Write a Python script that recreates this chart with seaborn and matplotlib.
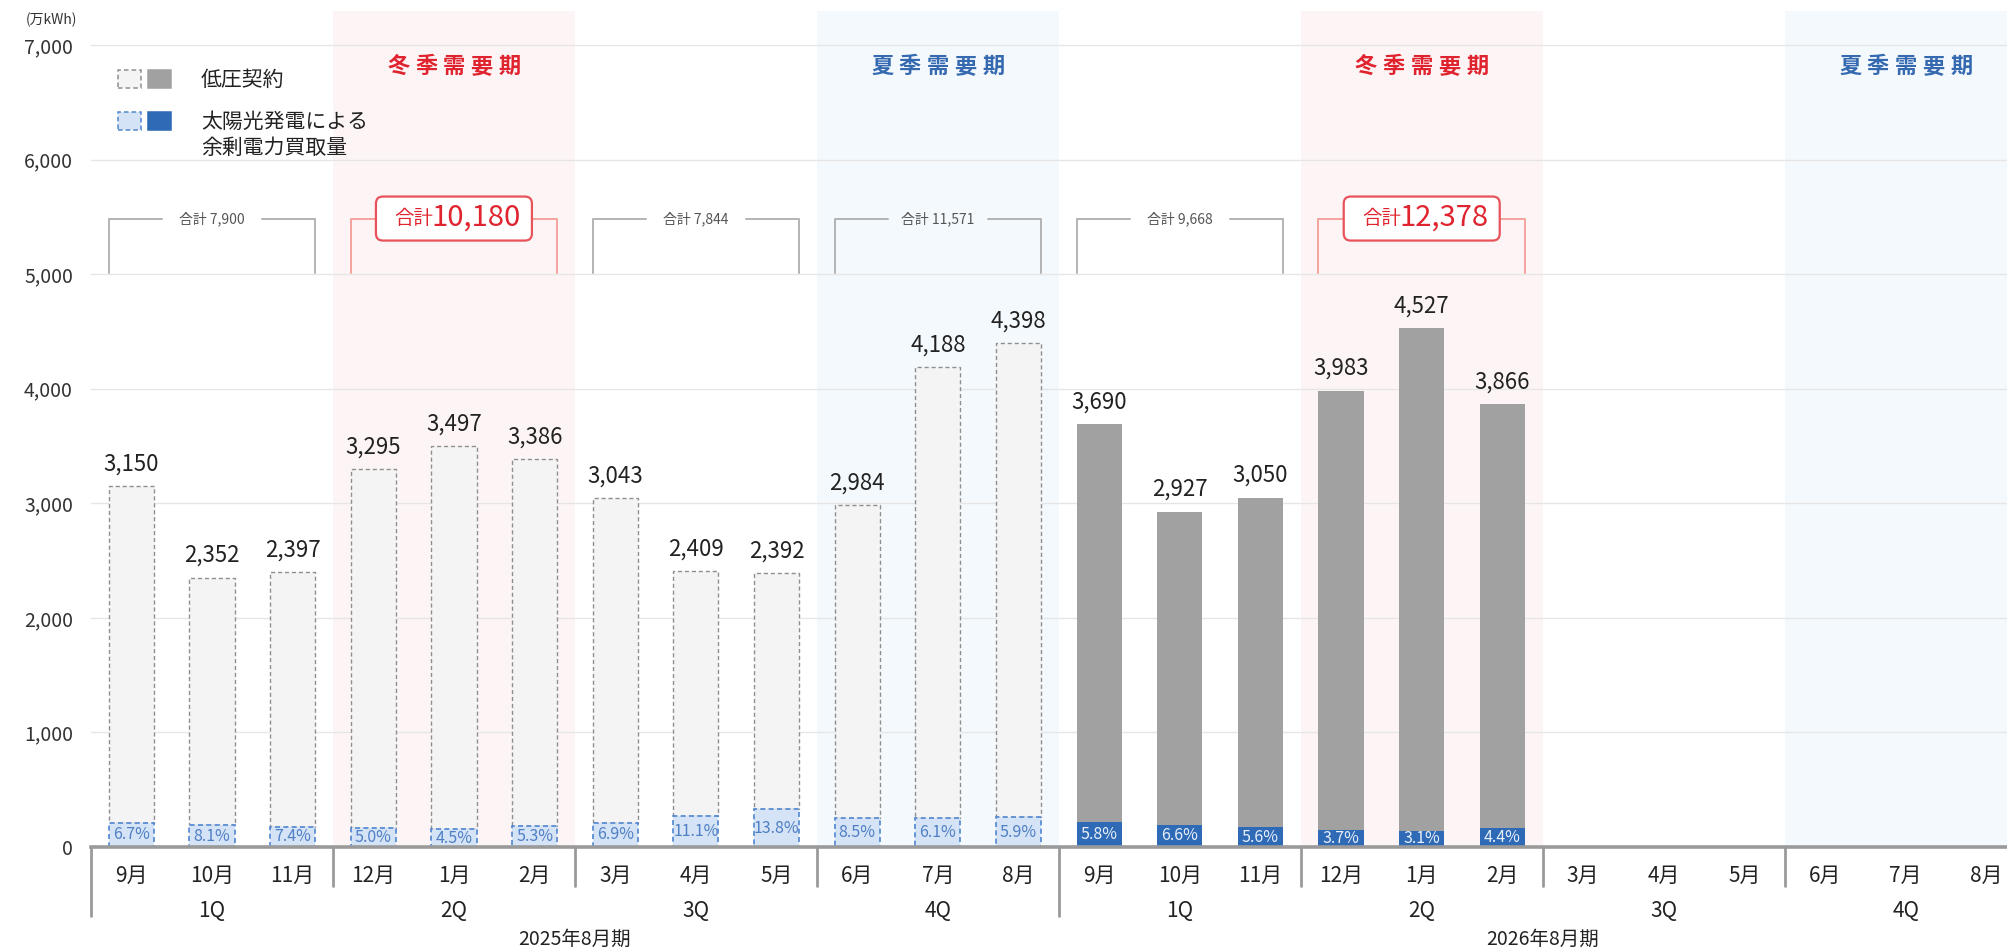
import matplotlib
matplotlib.use("Agg")
import matplotlib.pyplot as plt
from matplotlib.patches import Rectangle, FancyBboxPatch
from matplotlib.transforms import IdentityTransform
import numpy as np
import pandas as pd
import seaborn as sns

# データ
months = ['9月', '10月', '11月', '12月', '1月', '2月', '3月', '4月', '5月', '6月', '7月', '8月'] * 2
totals_2025 = [3150, 2352, 2397, 3295, 3497, 3386, 3043, 2409, 2392, 2984, 4188, 4398]
solar_2025 = [211, 191, 177, 165, 157, 179, 210, 267, 330, 254, 255, 259]
share_2025 = ['6.7%', '8.1%', '7.4%', '5.0%', '4.5%', '5.3%', '6.9%', '11.1%', '13.8%', '8.5%', '6.1%', '5.9%']
totals_2026 = [3690, 2927, 3050, 3983, 4527, 3866]
solar_2026 = [214, 193, 171, 147, 140, 170]
share_2026 = ['5.8%', '6.6%', '5.6%', '3.7%', '3.1%', '4.4%']
quarters = ['1Q', '2Q', '3Q', '4Q'] * 2
fiscal_years = ['2025年8月期', '2026年8月期']
quarter_totals = [7900, 10180, 7844, 11571, 9668, 12378]
quarter_highlight = [False, True, False, False, False, True]
seasons = ['', '冬季需要期', '', '夏季需要期', '', '冬季需要期', '', '夏季需要期']

sns.set_theme(style='white')
plt.rcParams['font.family'] = ['Noto Sans CJK JP', 'DejaVu Sans']

W, H = 2007, 950
fig = plt.figure(figsize=(W / 100, H / 100), dpi=100)
slot = 80.65
ax = fig.add_axes([91 / W, 103 / H, 24 * slot / W, 836.4 / H])
ax.set_xlim(-0.5, 23.5)
ax.set_ylim(0, 7300)

def P(x, y):
    return (x / W, 1 - y / H)

# 需要期の背景
for q, s in enumerate(seasons):
    if s:
        c = '#fdf5f5' if s.startswith('冬') else '#f4f9fd'
        ax.axvspan(3 * q - 0.5, 3 * q + 2.5, color=c, zorder=0, lw=0)
        col = '#e0242f' if s.startswith('冬') else '#3569b0'
        for i, ch in enumerate(s):
            ax.annotate(ch, (3 * q + 1, 6810), xytext=((i - 2) * 20, 0), textcoords='offset points',
                        ha='center', va='center', fontsize=16, fontweight='bold', color=col)

for v in range(1000, 7001, 1000):
    ax.axhline(v, color='#e6e6e6', lw=1, zorder=0.5)

df25 = pd.DataFrame({'slot': np.arange(12), 'total': totals_2025, 'solar': solar_2025})
df26 = pd.DataFrame({'slot': np.arange(12, 18), 'total': totals_2026, 'solar': solar_2026})
df25['low'] = df25['total'] - df25['solar']
df26['low'] = df26['total'] - df26['solar']

dash = (0, (3, 2))
sns.barplot(data=df25, x='slot', y='solar', native_scale=True, width=0.56, color='#d4e3f6',
            saturation=1, edgecolor='#4f86d0', linewidth=1.2, linestyle=dash, errorbar=None, ax=ax, zorder=2)
sns.barplot(data=df25, x='slot', y='low', native_scale=True, width=0.56, color='#f3f4f3',
            saturation=1, edgecolor='#8f8f8f', linewidth=1, linestyle=dash, errorbar=None, ax=ax, zorder=1.5)
for p, s in zip(ax.containers[-1], solar_2025):
    p.set_y(s)
sns.barplot(data=df26, x='slot', y='solar', native_scale=True, width=0.56, color='#2f6ab7',
            saturation=1, linewidth=0, errorbar=None, ax=ax, zorder=2)
sns.barplot(data=df26, x='slot', y='low', native_scale=True, width=0.56, color='#a0a1a0',
            saturation=1, linewidth=0, errorbar=None, ax=ax, zorder=1.5)
for p, s in zip(ax.containers[-1], solar_2026):
    p.set_y(s)
ax.set_xlim(-0.5, 23.5)
ax.set_ylim(0, 7300)

# ラベル
for df, shares, pc in [(df25, share_2025, '#4f7fc4'), (df26, share_2026, '#e8eff9')]:
    for x, t, s, sh in zip(df['slot'], df['total'], df['solar'], shares):
        ax.annotate(f'{t:,}', (x, t), xytext=(0, 16), textcoords='offset points',
                    ha='center', va='center', fontsize=16, color='#222222')
        ax.text(x, s / 2, sh, ha='center', va='center', fontsize=11.5, color=pc, zorder=3)

# 合計ブラケット
bw = 0.28
for q, (qt, hl) in enumerate(zip(quarter_totals, quarter_highlight)):
    x0, x1 = 3 * q - bw, 3 * q + 2 + bw
    cx = 3 * q + 1
    yb, yt = 5010, 5485
    lc = '#f3a39c' if hl else '#b3b3b3'
    gap = 0.97 if hl else 0.62
    ax.plot([x0, x0, cx - gap], [yb, yt, yt], color=lc, lw=1.4, zorder=2)
    ax.plot([cx + gap, x1, x1], [yt, yt, yb], color=lc, lw=1.4, zorder=2)
    if hl:
        dx, dy = ax.transData.transform((cx, yt))
        box = FancyBboxPatch((dx - 78, dy - 22), 156, 44, boxstyle='round,pad=0,rounding_size=7',
                             transform=IdentityTransform(), facecolor='white', edgecolor='#e8525b',
                             lw=1.6, zorder=3, clip_on=False)
        ax.add_artist(box)
        ax.annotate('合計', (cx, yt), xytext=(-29, 0), textcoords='offset points',
                    ha='center', va='center', fontsize=14, color='#e0242f', zorder=4)
        ax.annotate(f'{qt:,}', (cx, yt), xytext=(16, 1), textcoords='offset points',
                    ha='center', va='center', fontsize=21, color='#e0242f', zorder=4)
    else:
        ax.text(cx, yt, f'合計 {qt:,}', ha='center', va='center', fontsize=10, color='#555555')

# 軸
ax.set_xticks(range(24))
ax.set_xticklabels(months, fontsize=15, color='#222222')
ax.set_yticks(range(0, 7001, 1000))
ax.set_yticklabels([f'{v:,}' for v in range(0, 7001, 1000)], fontsize=14, color='#333333')
ax.tick_params(axis='x', length=0, pad=13)
ax.tick_params(axis='y', length=0, pad=13)
ax.set_xlabel('')
ax.set_ylabel('')
for side in ['top', 'right', 'left']:
    ax.spines[side].set_visible(False)
ax.spines['bottom'].set_color('#9a9a9a')
ax.spines['bottom'].set_linewidth(2.6)
ax.spines['bottom'].set_zorder(5)

xt = ax.get_xaxis_transform()
for k in range(9):
    xv = 3 * k - 0.5
    ln = 0.0825 if k % 4 == 0 else 0.0466
    ax.plot([xv, xv], [0, -ln], transform=xt, clip_on=False, color='#9a9a9a', lw=2)
for q, lab in enumerate(quarters):
    ax.text(3 * q + 1, -0.0765, lab, transform=xt, ha='center', va='center', fontsize=15, color='#222222')
for f, lab in enumerate(fiscal_years):
    ax.text(12 * f + 5.5, -0.111, lab, transform=xt, ha='center', va='center', fontsize=14, color='#222222')

fig.text(*P(51, 20), '(万kWh)', ha='center', va='center', fontsize=10, color='#333333')

# 凡例
def swatch(x, y, fc, ec, ls):
    r = Rectangle(P(x, y + 18), 23 / W, 18 / H, transform=fig.transFigure,
                  facecolor=fc, edgecolor=ec, lw=1.1, linestyle=ls)
    fig.add_artist(r)

swatch(118, 70, '#f3f4f3', '#8f8f8f', dash)
swatch(148, 70, '#a0a1a0', '#a0a1a0', '-')
swatch(118, 112, '#d4e3f6', '#4f86d0', dash)
swatch(148, 112, '#2f6ab7', '#2f6ab7', '-')
fig.text(*P(201, 80), '低圧契約', ha='left', va='center', fontsize=15, color='#222222')
fig.text(*P(201, 122), '太陽光発電による', ha='left', va='center', fontsize=15, color='#222222')
fig.text(*P(201, 148), '余剰電力買取量', ha='left', va='center', fontsize=15, color='#222222')

fig.savefig('out.png', dpi=100)
